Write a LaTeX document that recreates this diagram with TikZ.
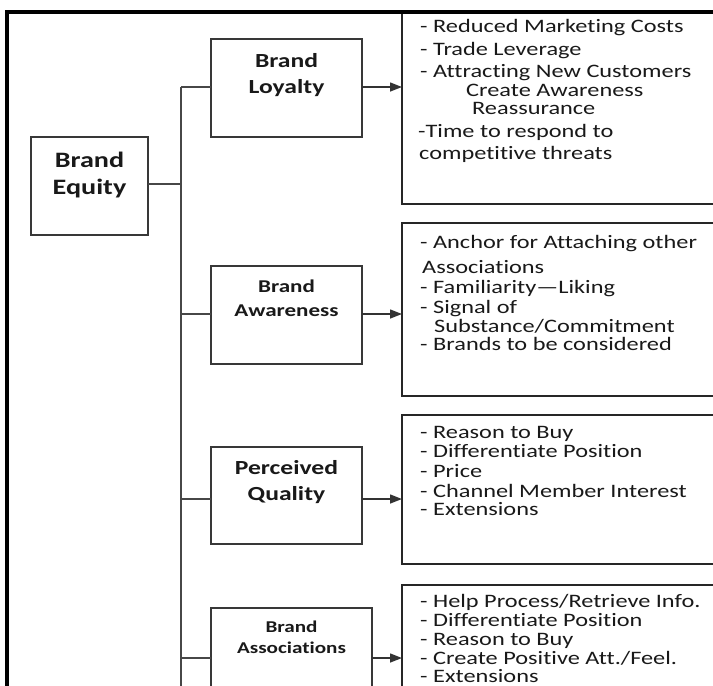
\documentclass[tikz,border=0pt]{standalone}
\usepackage{fontspec}
\setmainfont{Carlito}[FakeStretch=1.28, RawFeature={-liga;-clig;-dlig;-calt;-rlig}]
\usetikzlibrary{arrows.meta}

\begin{document}
\begin{tikzpicture}[x=1pt,y=-1pt,
  box/.style={draw=black!78, line width=1.6pt, inner sep=0pt, outer sep=0pt, anchor=north west},
  listbox/.style={draw=black!85, line width=1.6pt, inner sep=0pt, outer sep=0pt, anchor=north west},
  head/.style={anchor=base, inner sep=0pt, text=black!90, font=\bfseries\fontsize{#1}{#1}\selectfont},
  item/.style={anchor=base west, inner sep=0pt, text=black!90, font=\fontsize{19}{19}\selectfont},
  link/.style={draw=black!72, line width=1.6pt},
  arr/.style={draw=black!80, line width=1.4pt, -{Triangle[length=12pt,width=9pt]}}]

\useasboundingbox (0,0) rectangle (713,686);
\fill[white] (0,0) rectangle (713,686);
\clip (0,0) rectangle (713,686);

% central and second-level boxes
\node[box, minimum width=117pt, minimum height=98pt] (eq)  at (31,137) {};
\node[box, minimum width=151pt, minimum height=98pt] (loy) at (211,39) {};
\node[box, minimum width=151pt, minimum height=98pt] (aw)  at (211,266) {};
\node[box, minimum width=151pt, minimum height=97pt] (pq)  at (211,447) {};
\node[box, minimum width=161pt, minimum height=120pt] (as) at (211,608) {};

% list boxes on the right
\node[listbox, minimum width=330pt, minimum height=192pt] (r1) at (402,12) {};
\node[listbox, minimum width=330pt, minimum height=173pt] (r2) at (402,223) {};
\node[listbox, minimum width=330pt, minimum height=149pt] (r3) at (402,415) {};
\node[listbox, minimum width=330pt, minimum height=150pt] (r4) at (402,585) {};

% headings
\node[head=22] (eqa) at (89.5,167) {Brand};
\node[head=22] (eqb) at (89.5,194) {Equity};
\node[head=20] (loya) at (286.5,67) {Brand};
\node[head=20] (loyb) at (286.5,93) {Loyalty};
\node[head=18] (awa) at (286.5,292) {Brand};
\node[head=18] (awb) at (286.5,316) {Awareness};
\node[head=20] (pqa) at (286.5,474) {Perceived};
\node[head=20] (pqb) at (286.5,500) {Quality};
\node[head=16.5] (asa) at (291.5,632) {Brand};
\node[head=16.5] (asb) at (291.5,653) {Associations};

% tree trunk and branch heights
\coordinate (trunktop) at (181,87);
\coordinate (trunkbot) at (181,700);
\coordinate (yl) at (0,87);
\coordinate (ye) at (0,184);
\coordinate (ya) at (0,314);
\coordinate (yp) at (0,499);
\coordinate (ys) at (0,658);

\draw[link] (trunktop) -- (trunkbot);
\draw[link] (ye -| eq.east) -- (ye -| trunktop);
\draw[link] (yl -| trunktop) -- (yl -| loy.west);
\draw[link] (ya -| trunktop) -- (ya -| aw.west);
\draw[link] (yp -| trunktop) -- (yp -| pq.west);
\draw[link] (ys -| trunktop) -- (ys -| as.west);

\draw[arr] (yl -| loy.east) -- (yl -| r1.west);
\draw[arr] (ya -| aw.east) -- (ya -| r2.west);
\draw[arr] (yp -| pq.east) -- (yp -| r3.west);
\draw[arr] (ys -| as.east) -- (ys -| r4.west);

% list texts
\node[item] (r1a) at (420,32) {- Reduced Marketing Costs};
\node[item] (r1b) at (420,55) {- Trade Leverage};
\node[item] (r1c) at (420,77) {- Attracting New Customers};
\node[item] (r1d) at (466,96) {Create Awareness};
\node[item] (r1e) at (472,114) {Reassurance};
\node[item] (r1f) at (418,137) {-Time to respond to};
\node[item] (r1g) at (419,159) {competitive threats};

\node[item] (r2a) at (420,248) {- Anchor for Attaching other};
\node[item] (r2b) at (422,273) {Associations};
\node[item] (r2c) at (420,293) {- Familiarity---Liking};
\node[item] (r2d) at (420,313) {- Signal of};
\node[item] (r2e) at (434,332) {Substance/Commitment};
\node[item] (r2f) at (420,350) {- Brands to be considered};

\node[item] (r3a) at (420,438) {- Reason to Buy};
\node[item] (r3b) at (420,457) {- Differentiate Position};
\node[item] (r3c) at (420,477) {- Price};
\node[item] (r3d) at (420,497) {- Channel Member Interest};
\node[item] (r3e) at (420,515) {- Extensions};

\node[item] (r4a) at (420,607) {- Help Process/Retrieve Info.};
\node[item] (r4b) at (420,626) {- Differentiate Position};
\node[item] (r4c) at (420,645) {- Reason to Buy};
\node[item] (r4d) at (420,664) {- Create Positive Att./Feel.};
\node[item] (r4e) at (420,682) {- Extensions};

% outer frame
\draw[line width=3.4pt, black] (7,700) -- (7,12) -- (720,12);
\end{tikzpicture}
\end{document}
